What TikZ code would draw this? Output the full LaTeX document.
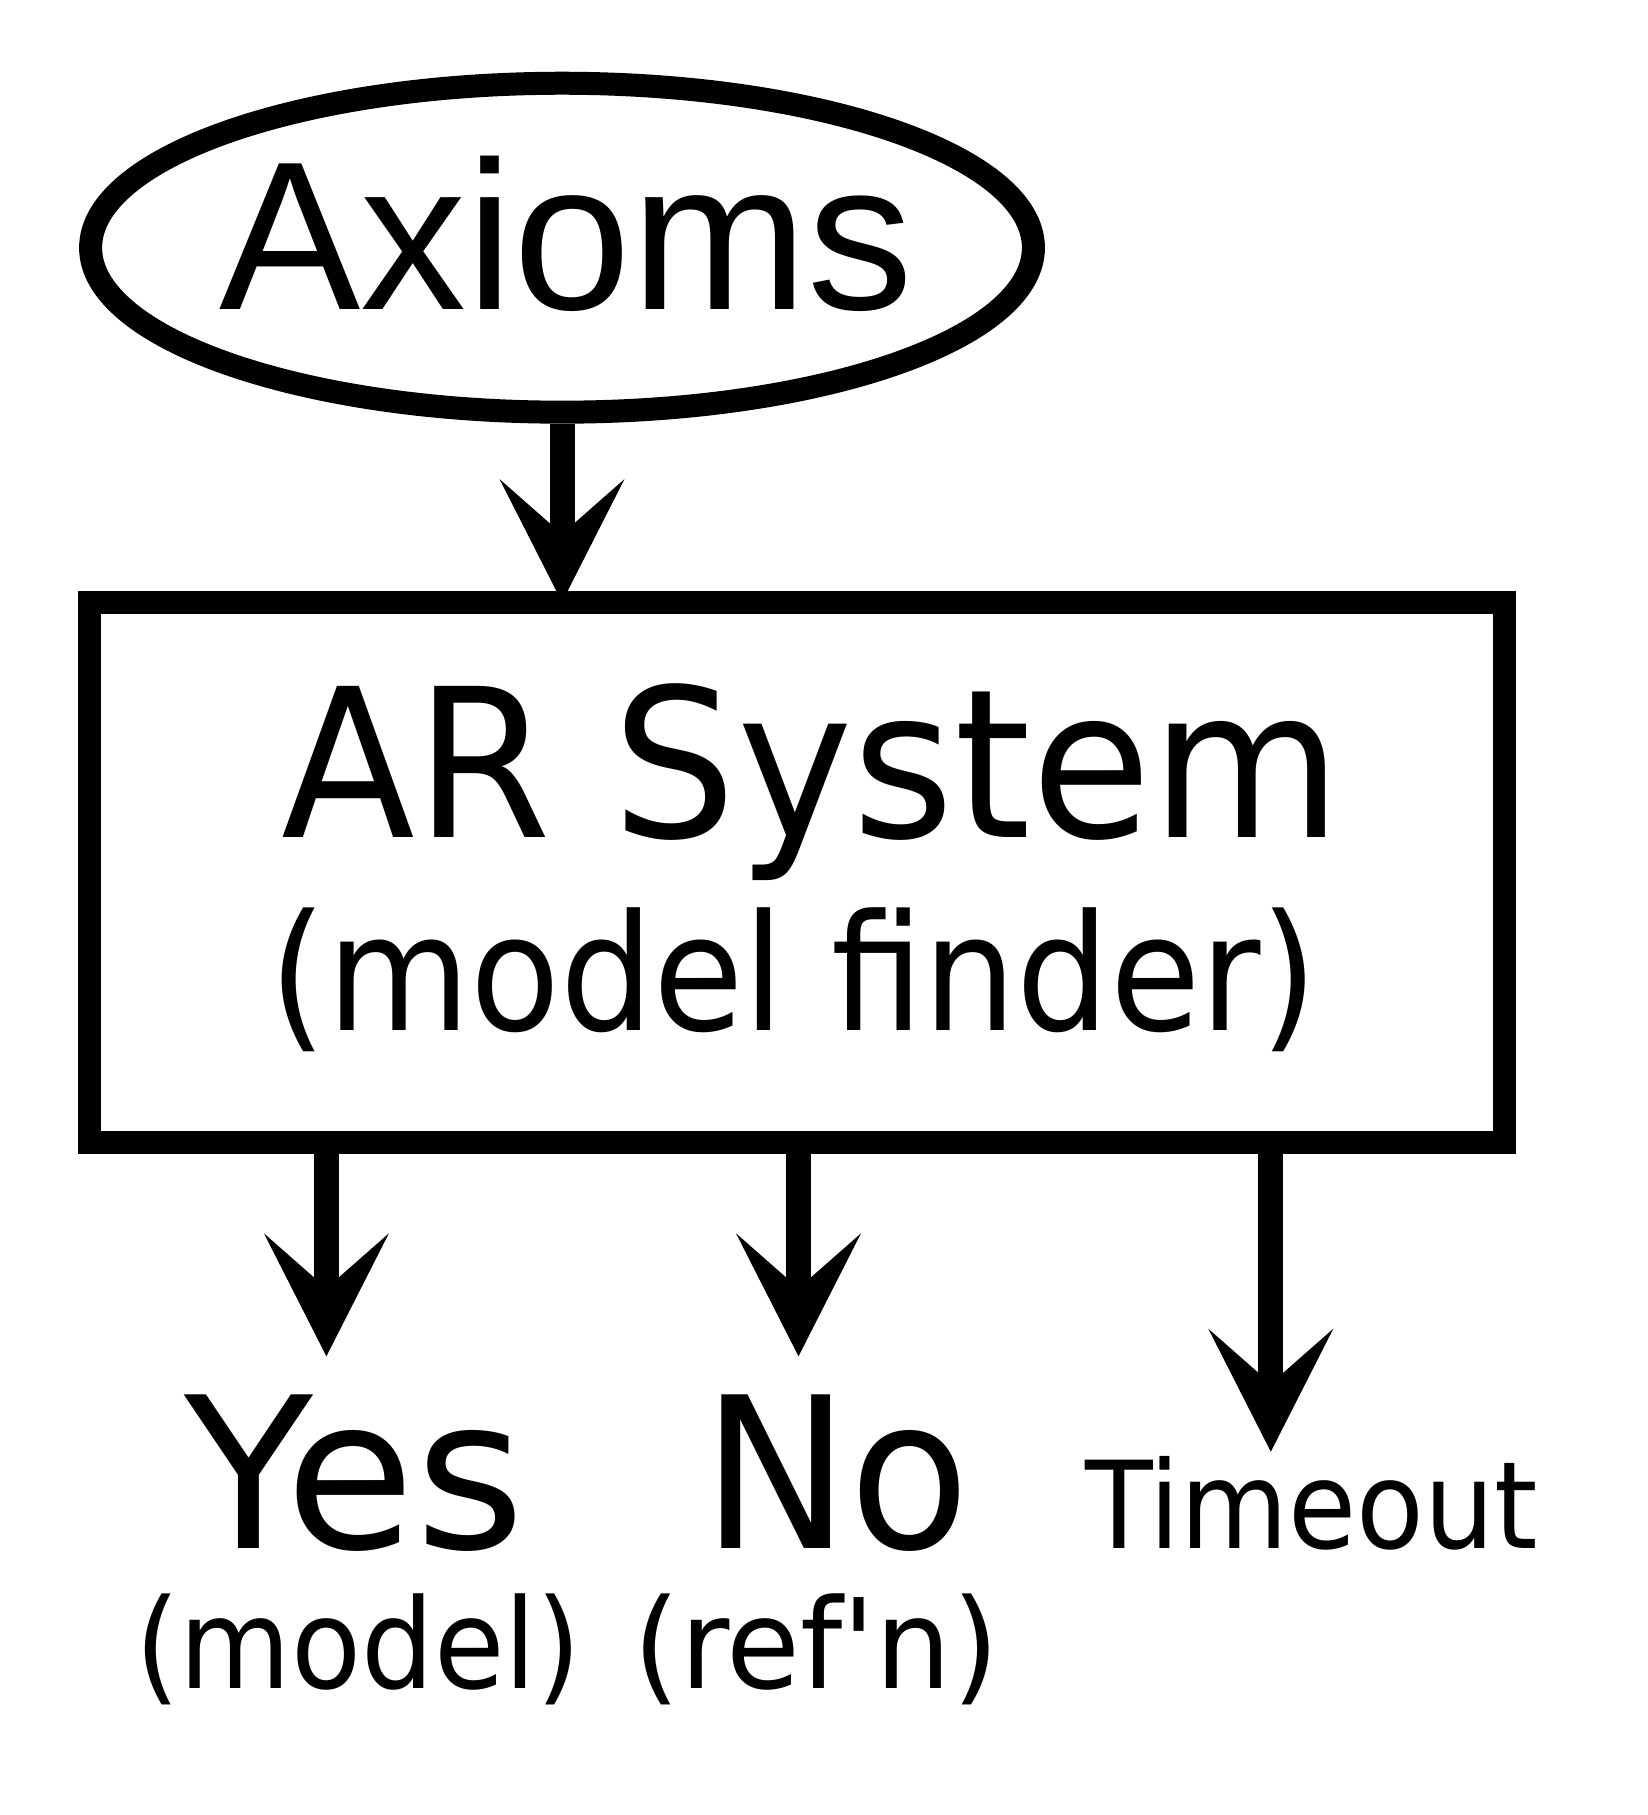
\documentclass[tikz,border=0pt]{standalone}
\usepackage{fontspec}
\setmainfont{DejaVu Sans}
\newfontfamily\arialf{Liberation Sans}
\newfontfamily\dvsq{DejaVu Sans}[Ligatures=TeXOff]
\usetikzlibrary{arrows.meta,shapes.geometric}
\newcommand\setfs[1]{\fontsize{#1}{#1}\selectfont}
\tikzset{
  shapeline/.style={draw=black, line width=0.46cm},
  arr/.style={line width=0.5cm, -{Stealth[length=2.46cm, width=2.5cm, inset=1.1cm, line width=0pt]}},
  lbl/.style={inner sep=0pt, outer sep=0pt, anchor=base}
}
\begin{document}
\begin{tikzpicture}[x=0.02cm, y=-0.02cm]
\useasboundingbox[fill=white] (0,0) rectangle (1648,1815);
% nodes
\node[shapeline, ellipse, minimum width=18.86cm, minimum height=6.58cm, inner sep=0pt] (ax) at (562,247.7) {};
\node[lbl] (axt) at (566.5,309) {\arialf\setfs{120.5pt}Axioms};
\node[shapeline, rectangle, minimum width=28.31cm, minimum height=10.82cm, inner sep=0pt, outer sep=0pt] (sys) at (797.25,872.5) {};
\node[lbl] (sys1) at (811.7,837.9) {\setfs{118pt}\scalebox{0.943}[1]{AR System}};
\node[lbl] (sys2) at (794,1030) {\setfs{92pt}\scalebox{0.909}[1]{(model finder)}};
\node[lbl] (yes) at (355,1548.5) {\setfs{120pt}\scalebox{1}[1]{Yes}};
\node[lbl] (no) at (836.2,1548.5) {\setfs{120pt}\scalebox{0.934}[1]{No}};
\node[lbl] (tmo) at (1311.5,1548.5) {\setfs{69pt}\scalebox{0.914}[1]{Timeout}};
\node[lbl] (yesb) at (358.2,1688) {\setfs{71pt}\scalebox{0.918}[1]{(model)}};
\node[lbl] (nob) at (816,1688) {\setfs{71pt}\scalebox{0.962}[1]{(ref{\dvsq'}n)}};
% connector end points
\coordinate (yesT) at (326.4,1356.3);
\coordinate (noT) at (798.5,1356.3);
\coordinate (tmoT) at (1270.8,1451.7);
% connectors
\draw[arr] (ax.south) -- (ax.south |- sys.north);
\draw[arr] (yesT |- sys.south) -- (yesT);
\draw[arr] (noT |- sys.south) -- (noT);
\draw[arr] (tmoT |- sys.south) -- (tmoT);
\end{tikzpicture}
\end{document}
